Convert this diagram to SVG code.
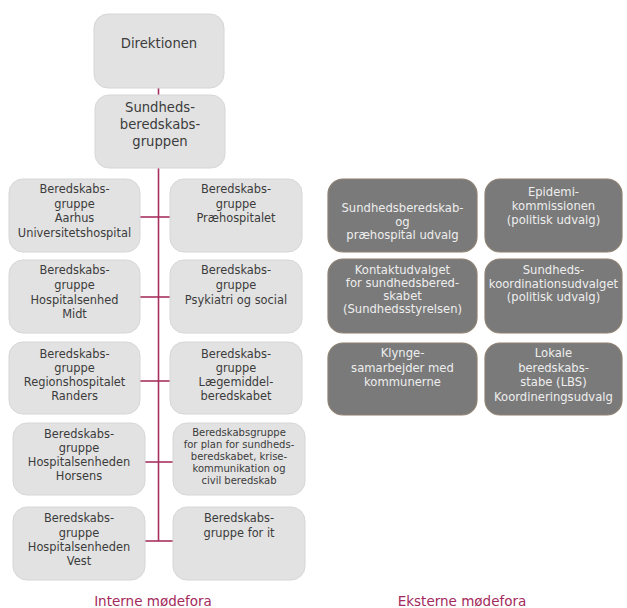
<svg xmlns="http://www.w3.org/2000/svg" width="627" height="608" viewBox="0 0 627 608">
  <style>
    .lb { fill: #e2e2e2; stroke: #d6d6d6; stroke-width: 1; }
    .db { fill: #7a7a7a; stroke: #8c8070; stroke-width: 1.2; }
    .lt { font-family: "DejaVu Sans", Verdana, sans-serif; font-size: 11.4px; fill: #3c3c3c; text-anchor: middle; }
    .st { font-family: "DejaVu Sans", Verdana, sans-serif; font-size: 10px; fill: #3c3c3c; text-anchor: middle; }
    .bt { font-family: "DejaVu Sans", Verdana, sans-serif; font-size: 13.2px; fill: #3c3c3c; text-anchor: middle; }
    .dt { font-family: "DejaVu Sans", Verdana, sans-serif; font-size: 11.6px; fill: #eeeeee; text-anchor: middle; }
    .cap { font-family: "DejaVu Sans", Verdana, sans-serif; font-size: 13.5px; fill: #a32a5c; text-anchor: middle; }
    .conn { stroke: #a8305f; stroke-width: 1.6; fill: none; }
  </style>
  <rect width="627" height="608" fill="#ffffff"/>

  <!-- connectors -->
  <g id="connectors" class="conn">
    <line x1="158.5" y1="88" x2="158.5" y2="95"/>
    <line x1="158.5" y1="168" x2="158.5" y2="541"/>
    <line x1="140" y1="217" x2="170" y2="217"/>
    <line x1="140" y1="297" x2="170" y2="297"/>
    <line x1="140" y1="381" x2="170" y2="381"/>
    <line x1="145" y1="462" x2="173" y2="462"/>
    <line x1="145" y1="541" x2="173" y2="541"/>
  </g>

  <g id="direktionen">
    <rect class="lb" x="94" y="14" width="130" height="74" rx="14"/>
    <text class="bt" x="159" y="48">Direktionen</text>
  </g>
  <g id="sundhedsberedskabsgruppen">
    <rect class="lb" x="95" y="95" width="130" height="73" rx="14"/>
    <text class="bt" x="160" y="112">Sundheds-</text>
    <text class="bt" x="160" y="129">beredskabs-</text>
    <text class="bt" x="160" y="146">gruppen</text>
  </g>

  <!-- internal groups, left column -->
  <g id="bg-aarhus">
    <rect class="lb" x="9" y="179" width="131" height="73" rx="14"/>
    <text class="lt" x="74.5" y="193">Beredskabs-</text>
    <text class="lt" x="74.5" y="207.5">gruppe</text>
    <text class="lt" x="74.5" y="222">Aarhus</text>
    <text class="lt" x="74.5" y="236.5">Universitetshospital</text>
  </g>
  <g id="bg-midt">
    <rect class="lb" x="9" y="260" width="131" height="73" rx="14"/>
    <text class="lt" x="74.5" y="274">Beredskabs-</text>
    <text class="lt" x="74.5" y="289">gruppe</text>
    <text class="lt" x="74.5" y="303.5">Hospitalsenhed</text>
    <text class="lt" x="74.5" y="318">Midt</text>
  </g>
  <g id="bg-randers">
    <rect class="lb" x="9" y="342" width="131" height="72" rx="14"/>
    <text class="lt" x="74.5" y="358">Beredskabs-</text>
    <text class="lt" x="74.5" y="372">gruppe</text>
    <text class="lt" x="74.5" y="386">Regionshospitalet</text>
    <text class="lt" x="74.5" y="400">Randers</text>
  </g>
  <g id="bg-horsens">
    <rect class="lb" x="13" y="423" width="132" height="72" rx="14"/>
    <text class="lt" x="79" y="438">Beredskabs-</text>
    <text class="lt" x="79" y="452">gruppe</text>
    <text class="lt" x="79" y="466">Hospitalsenheden</text>
    <text class="lt" x="79" y="480">Horsens</text>
  </g>
  <g id="bg-vest">
    <rect class="lb" x="13" y="507" width="132" height="73" rx="14"/>
    <text class="lt" x="79" y="522">Beredskabs-</text>
    <text class="lt" x="79" y="537">gruppe</text>
    <text class="lt" x="79" y="551">Hospitalsenheden</text>
    <text class="lt" x="79" y="565">Vest</text>
  </g>

  <!-- internal groups, right column -->
  <g id="bg-praehospital">
    <rect class="lb" x="170" y="179" width="132" height="73" rx="14"/>
    <text class="lt" x="236" y="193">Beredskabs-</text>
    <text class="lt" x="236" y="207.5">gruppe</text>
    <text class="lt" x="236" y="222">Præhospitalet</text>
  </g>
  <g id="bg-psykiatri">
    <rect class="lb" x="170" y="260" width="132" height="73" rx="14"/>
    <text class="lt" x="236" y="274">Beredskabs-</text>
    <text class="lt" x="236" y="289">gruppe</text>
    <text class="lt" x="236" y="303.5">Psykiatri og social</text>
  </g>
  <g id="bg-laegemiddel">
    <rect class="lb" x="170" y="342" width="132" height="72" rx="14"/>
    <text class="lt" x="236" y="358">Beredskabs-</text>
    <text class="lt" x="236" y="372">gruppe</text>
    <text class="lt" x="236" y="386">Lægemiddel-</text>
    <text class="lt" x="236" y="400">beredskabet</text>
  </g>
  <g id="bg-plan">
    <rect class="lb" x="173" y="423" width="132" height="72" rx="14"/>
    <text class="st" x="239" y="435.5">Beredskabsgruppe</text>
    <text class="st" x="239" y="447.5">for plan for sundheds-</text>
    <text class="st" x="239" y="459.5">beredskabet,  krise-</text>
    <text class="st" x="239" y="471.5">kommunikation og</text>
    <text class="st" x="239" y="484">civil beredskab</text>
  </g>
  <g id="bg-it">
    <rect class="lb" x="173" y="507" width="132" height="73" rx="14"/>
    <text class="lt" x="239" y="522">Beredskabs-</text>
    <text class="lt" x="239" y="536.5">gruppe for it</text>
  </g>

  <!-- external fora -->
  <g id="ext-udvalg">
    <rect class="db" x="328" y="179" width="149" height="73" rx="15"/>
    <text class="dt" x="402.5" y="212">Sundhedsberedskab-</text>
    <text class="dt" x="402.5" y="225.5">og</text>
    <text class="dt" x="402.5" y="239">præhospital udvalg</text>
  </g>
  <g id="ext-epidemi">
    <rect class="db" x="485" y="179" width="137" height="73" rx="15"/>
    <text class="dt" x="553.5" y="196">Epidemi-</text>
    <text class="dt" x="553.5" y="209.5">kommissionen</text>
    <text class="dt" x="553.5" y="224">(politisk udvalg)</text>
  </g>
  <g id="ext-kontakt">
    <rect class="db" x="328" y="259" width="149" height="74" rx="15"/>
    <text class="dt" x="402.5" y="274">Kontaktudvalget</text>
    <text class="dt" x="402.5" y="287">for sundhedsbered-</text>
    <text class="dt" x="402.5" y="300">skabet</text>
    <text class="dt" x="402.5" y="313">(Sundhedsstyrelsen)</text>
  </g>
  <g id="ext-koordination">
    <rect class="db" x="485" y="259" width="137" height="74" rx="15"/>
    <text class="dt" x="553.5" y="274">Sundheds-</text>
    <text class="dt" x="553.5" y="287.5">koordinationsudvalget</text>
    <text class="dt" x="553.5" y="301">(politisk udvalg)</text>
  </g>
  <g id="ext-klynge">
    <rect class="db" x="328" y="343" width="149" height="72" rx="15"/>
    <text class="dt" x="402.5" y="357">Klynge-</text>
    <text class="dt" x="402.5" y="372">samarbejder med</text>
    <text class="dt" x="402.5" y="386">kommunerne</text>
  </g>
  <g id="ext-lbs">
    <rect class="db" x="485" y="343" width="137" height="72" rx="15"/>
    <text class="dt" x="553.5" y="357">Lokale</text>
    <text class="dt" x="553.5" y="371.5">beredskabs-</text>
    <text class="dt" x="553.5" y="386">stabe (LBS)</text>
    <text class="dt" x="553.5" y="401">Koordineringsudvalg</text>
  </g>

  <text class="cap" x="153" y="606">Interne mødefora</text>
  <text class="cap" x="462" y="606">Eksterne mødefora</text>
</svg>
